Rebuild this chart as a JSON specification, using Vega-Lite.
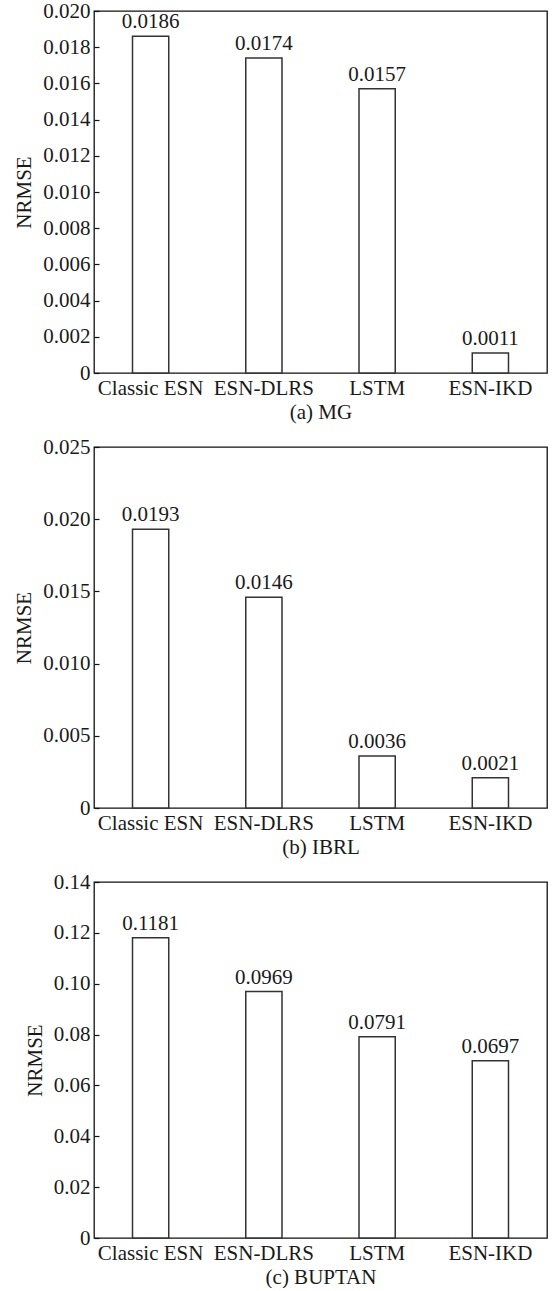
{
  "$schema": "https://vega.github.io/schema/vega-lite/v6.json",
  "padding": {"left": 13, "top": -1, "right": 0, "bottom": 0},
  "background": "white",
  "spacing": 74,
  "bounds": "flush",
  "config": {
    "font": "'Liberation Serif', 'Times New Roman', Times, serif",
    "view": {"stroke": "#111", "strokeWidth": 1.3},
    "axis": {
      "labelFont": "'Liberation Serif', 'Times New Roman', Times, serif",
      "titleFont": "'Liberation Serif', 'Times New Roman', Times, serif",
      "labelFontSize": 21,
      "titleFontSize": 21,
      "labelColor": "#1a1a1a",
      "titleColor": "#1a1a1a",
      "titleFontWeight": "normal",
      "domain": false,
      "grid": false
    },
    "text": {"font": "'Liberation Serif', 'Times New Roman', Times, serif", "fontSize": 21, "color": "#1a1a1a"}
  },
  "datasets": {
    "mg": [
      {"model": "Classic ESN", "value": 0.0186},
      {"model": "ESN-DLRS", "value": 0.0174},
      {"model": "LSTM", "value": 0.0157},
      {"model": "ESN-IKD", "value": 0.0011}
    ],
    "ibrl": [
      {"model": "Classic ESN", "value": 0.0193},
      {"model": "ESN-DLRS", "value": 0.0146},
      {"model": "LSTM", "value": 0.0036},
      {"model": "ESN-IKD", "value": 0.0021}
    ],
    "buptan": [
      {"model": "Classic ESN", "value": 0.1181},
      {"model": "ESN-DLRS", "value": 0.0969},
      {"model": "LSTM", "value": 0.0791},
      {"model": "ESN-IKD", "value": 0.0697}
    ]
  },
  "vconcat": [
    {
      "width": 453,
      "height": 362,
      "data": {"name": "mg"},
      "encoding": {
        "x": {"field": "model", "type": "nominal", "sort": null,
          "scale": {"paddingInner": 0.68, "paddingOuter": 0.34},
          "axis": {"labelAngle": 0, "ticks": false, "labelPadding": 4, "title": "(a) MG", "titlePadding": 3}},
        "y": {"field": "value", "type": "quantitative",
          "scale": {"domain": [0, 0.02], "nice": false},
          "axis": {"values": [0, 0.002, 0.004, 0.006, 0.008, 0.01, 0.012, 0.014, 0.016, 0.018, 0.02],
            "labelExpr": "datum.value == 0 ? '0' : format(datum.value, '.3f')",
            "tickSize": -5, "tickColor": "#111", "tickWidth": 1.2, "labelPadding": 9, "title": "NRMSE", "titlePadding": 8}}
      },
      "layer": [
        {"mark": {"type": "bar", "fill": "white", "stroke": "#333", "strokeWidth": 1.5}},
        {"mark": {"type": "text", "baseline": "bottom", "dy": -4}, "encoding": {"text": {"field": "value", "type": "quantitative", "format": ".4f"}}}
      ]
    },
    {
      "width": 453,
      "height": 361,
      "data": {"name": "ibrl"},
      "encoding": {
        "x": {"field": "model", "type": "nominal", "sort": null,
          "scale": {"paddingInner": 0.68, "paddingOuter": 0.34},
          "axis": {"labelAngle": 0, "ticks": false, "labelPadding": 4, "title": "(b) IBRL", "titlePadding": 3}},
        "y": {"field": "value", "type": "quantitative",
          "scale": {"domain": [0, 0.025], "nice": false},
          "axis": {"values": [0, 0.005, 0.01, 0.015, 0.02, 0.025],
            "labelExpr": "datum.value == 0 ? '0' : format(datum.value, '.3f')",
            "tickSize": -5, "tickColor": "#111", "tickWidth": 1.2, "labelPadding": 9, "title": "NRMSE", "titlePadding": 8}}
      },
      "layer": [
        {"mark": {"type": "bar", "fill": "white", "stroke": "#333", "strokeWidth": 1.5}},
        {"mark": {"type": "text", "baseline": "bottom", "dy": -4}, "encoding": {"text": {"field": "value", "type": "quantitative", "format": ".4f"}}}
      ]
    },
    {
      "width": 453,
      "height": 356,
      "data": {"name": "buptan"},
      "encoding": {
        "x": {"field": "model", "type": "nominal", "sort": null,
          "scale": {"paddingInner": 0.68, "paddingOuter": 0.34},
          "axis": {"labelAngle": 0, "ticks": false, "labelPadding": 4, "title": "(c) BUPTAN", "titlePadding": 3}},
        "y": {"field": "value", "type": "quantitative",
          "scale": {"domain": [0, 0.14], "nice": false},
          "axis": {"values": [0, 0.02, 0.04, 0.06, 0.08, 0.1, 0.12, 0.14],
            "labelExpr": "datum.value == 0 ? '0' : format(datum.value, '.2f')",
            "tickSize": -5, "tickColor": "#111", "tickWidth": 1.2, "labelPadding": 9, "title": "NRMSE", "titlePadding": 8}}
      },
      "layer": [
        {"mark": {"type": "bar", "fill": "white", "stroke": "#333", "strokeWidth": 1.5}},
        {"mark": {"type": "text", "baseline": "bottom", "dy": -4}, "encoding": {"text": {"field": "value", "type": "quantitative", "format": ".4f"}}}
      ]
    }
  ]
}
